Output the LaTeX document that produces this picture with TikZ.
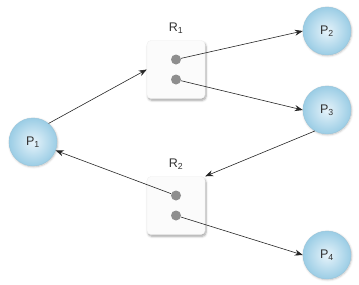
\documentclass[tikz,border=0pt]{standalone}
\usepackage{fontspec}
\setmainfont{Liberation Sans}
\usetikzlibrary{arrows.meta,positioning,shadows.blur}
\definecolor{procblue}{HTML}{9BCDE5}
\definecolor{proclight}{HTML}{E6F3FA}
\definecolor{dotgray}{HTML}{8E8E8E}
\definecolor{labgray}{HTML}{333333}
\tikzset{
  proc style/.style={circle, minimum size=48pt, inner sep=0pt,
    inner color=proclight, outer color=procblue, draw=procblue!90!gray, thin,
    font=\fontsize{12.5}{14}\selectfont, text=labgray,
    blur shadow={shadow xshift=0.6pt, shadow yshift=-0.8pt, shadow opacity=25, shadow blur steps=6}},
  res style/.style={rectangle, rounded corners=4pt, minimum width=58pt, minimum height=58pt,
    fill=gray!3, draw=gray!12,
    blur shadow={shadow xshift=1pt, shadow yshift=-2pt, shadow opacity=35, shadow blur steps=6}},
  dot style/.style={circle, fill=dotgray, inner sep=0pt, minimum size=10pt},
  lab style/.style={font=\fontsize{12.5}{14}\selectfont, text=labgray},
  arr style/.style={-{Stealth[length=8pt, width=6pt]}, semithick, black!85}
}
\begin{document}
\begin{tikzpicture}[x=1pt, y=-1pt]
\useasboundingbox (0,0) rectangle (359,284);
% processes
\node[proc style] (p1) at (33,142) {P\textsubscript{1}};
\node[proc style] (p2) at (327,31)  {P\textsubscript{2}};
\node[proc style] (p3) at (327,110) {P\textsubscript{3}};
\node[proc style] (p4) at (327,255) {P\textsubscript{4}};
% resources
\node[res style] (r1) at (176,69.5) {};
\node[lab style, above=3pt of r1] {R\textsubscript{1}};
\node[dot style] (r1a) at ([yshift=10pt]r1.center) {};
\node[dot style] (r1b) at ([yshift=-10pt]r1.center) {};
\node[res style] (r2) at (176,205.5) {};
\node[lab style, above=3pt of r2] {R\textsubscript{2}};
\node[dot style] (r2a) at ([yshift=10pt]r2.center) {};
\node[dot style] (r2b) at ([yshift=-10pt]r2.center) {};
% edges
\draw[arr style] (p1.50) -- (r1.west);
\draw[arr style] (r1a) -- (p2.west);
\draw[arr style] (r1b) -- (p3.west);
\draw[arr style] (p3.240) -- (r2.north east);
\draw[arr style] (r2a) -- (p1);
\draw[arr style] (r2b) -- (p4.west);
\end{tikzpicture}
\end{document}
